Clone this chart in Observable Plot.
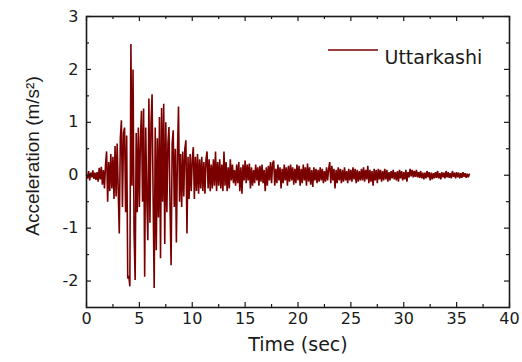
<!DOCTYPE html>
<html><head><meta charset="utf-8">
<script src="https://cdn.jsdelivr.net/npm/d3@7"></script>
<script src="https://cdn.jsdelivr.net/npm/@observablehq/plot@0.6"></script>
<style>body{margin:0;background:#fff}</style>
</head><body><div id="chart"></div>
<script>
// Sampling interval (s) and acceleration record (m/s²), one row per second
const dt = 0.1;
const acceleration = [
  0, -0.06, 0.08, -0.1, 0.05, -0.04, 0.09, -0.07, 0.05, -0.09,
  0.06, -0.12, 0.14, -0.08, 0.16, -0.18, 0.1, -0.25, 0.2, 0.45,
  -0.5, 0.25, -0.3, 0.4, -0.25, 0.35, -0.45, 0.55, -0.4, 0.6,
  -0.3, -1.1, 0.7, 1.04, -0.6, 0.8, 0.9, -0.7, 0.75, -1.95,
  -1.9, -2.1, 2.48, -0.2, 2.0, -1.1, -1.98, 0.8, -0.7, 0.9,
  -0.6, 0.7, 1.22, -0.5, 1.26, -1.92, 0.9, -0.4, -1.23, 1.45,
  -0.9, 1.0, 1.53, -0.4, -2.13, 0.9, -1.42, 0.7, -0.8, 1.1,
  -1.57, 1.27, -0.5, 1.35, -1.3, 1.0, -0.7, 0.6, 0.91, -0.6,
  -1.7, 0.6, 0.85, -0.6, 0.5, -1.27, 0.4, 1.3, -0.5, 0.4,
  -0.6, 0.45, -0.4, 0.5, 0.66, -1.1, 0.35, -0.45, 0.4, -0.3,
  0.3, 0.53, -0.45, 0.35, -0.3, 0.4, -0.35, 0.3, -0.25, 0.35,
  -0.3, 0.25, -0.35, 0.3, 0.45, -0.25, 0.3, -0.3, 0.2, -0.25,
  0.3, -0.2, 0.45, -0.3, 0.25, -0.2, 0.3, -0.25, 0.2, -0.3,
  0.45, -0.2, 0.25, -0.3, 0.15, -0.25, 0.3, -0.1, 0.2, -0.15,
  0.1, -0.2, 0.2, -0.15, 0.25, -0.3, 0.15, -0.35, 0.2, -0.1,
  0.28, -0.15, 0.2, -0.1, 0.22, -0.25, 0.15, -0.2, 0.1, -0.15,
  0.2, -0.1, 0.15, -0.2, 0.18, -0.12, 0.2, -0.15, 0.1, -0.3,
  0.15, -0.2, 0.18, -0.1, 0.25, -0.15, 0.22, 0.28, -0.2, 0.12,
  -0.15, 0.2, -0.1, 0.15, -0.25, 0.12, -0.15, 0.2, -0.1, 0.15,
  -0.2, 0.18, -0.12, 0.2, -0.1, 0.15, -0.18, 0.12, -0.15, 0.2,
  -0.1, 0.18, -0.2, 0.12, -0.15, 0.2, -0.1, 0.15, -0.2, 0.22,
  -0.12, 0.15, -0.18, 0.1, -0.22, 0.15, -0.1, 0.12, -0.15, 0.1,
  -0.12, 0.15, -0.1, 0.12, -0.15, 0.08, -0.12, 0.15, -0.1, 0.12,
  0.25, -0.15, 0.18, -0.1, 0.12, -0.25, 0.1, -0.15, 0.15, -0.1,
  0.12, -0.15, 0.1, -0.12, 0.15, -0.1, 0.08, -0.15, 0.12, -0.1,
  0.1, -0.12, 0.15, -0.08, 0.12, -0.15, 0.1, -0.12, 0.08, -0.1,
  0.12, -0.1, 0.15, -0.12, 0.1, -0.08, 0.18, -0.15, 0.1, -0.12,
  0.08, -0.2, 0.12, -0.1, 0.1, -0.15, 0.12, -0.08, 0.1, -0.12,
  0.08, -0.1, 0.12, -0.08, 0.1, -0.12, 0.06, -0.1, 0.08, -0.06,
  0.1, -0.08, 0.06, -0.1, 0.08, -0.12, 0.1, -0.06, 0.08, -0.1,
  0.06, -0.08, 0.1, -0.12, 0.06, -0.04, 0.12, -0.02, 0.1, -0.04,
  0.08, -0.03, 0.1, -0.04, 0.06, -0.05, 0.08, -0.06, 0.05, -0.08,
  0.05, -0.06, 0.08, -0.04, 0.06, -0.1, 0.05, -0.08, 0.04, -0.06,
  0.06, -0.05, 0.08, -0.06, 0.04, -0.08, 0.06, -0.04, 0.05, -0.06,
  0.08, -0.04, 0.06, -0.05, 0.04, -0.06, 0.08, -0.03, 0.05, -0.06,
  0.06, -0.04, 0.05, -0.06, 0.04, -0.05, 0.06, -0.03, 0.04, -0.05,
  0.03, -0.04, 0.02
];

const xTicks = [0, 5, 10, 15, 20, 25, 30, 35, 40];
const xMinorTicks = [2.5, 7.5, 12.5, 17.5, 22.5, 27.5, 32.5, 37.5];
const yTicks = [-2, -1, 0, 1, 2, 3];
const yMinorTicks = [-1.5, -0.5, 0.5, 1.5, 2.5];
const seriesName = "Uttarkashi";
const xLabel = "Time (sec)";
const yLabel = "Acceleration (m/s²)";

const data = acceleration.map((a, i) => ({t: +(i * dt).toFixed(2), a}));

const W = 522, H = 362, mL = 86, mR = 13, mT = 16, mB = 55;
const innerW = W - mL - mR, innerH = H - mT - mB;
const lineColor = "#7a0000";
const ink = "#1a1a1a";
const sans = "'DejaVu Sans', sans-serif";
const maj = 5, mnr = 3;

const chart = Plot.plot({
  width: W, height: H,
  marginLeft: mL, marginRight: mR, marginTop: mT, marginBottom: mB,
  style: {fontFamily: sans, background: "#fff", color: ink},
  x: {domain: [0, 40]},
  y: {domain: [-2.5, 3]},
  marks: [
    Plot.line(data, {x: "t", y: "a", stroke: lineColor, strokeWidth: 1.6, strokeLinejoin: "miter"}),
    // inward ticks, bottom/top
    Plot.ruleX(xTicks, {x: d => d, insetTop: innerH - maj, stroke: ink, strokeWidth: 1.2}),
    Plot.ruleX(xTicks, {x: d => d, insetBottom: innerH - maj, stroke: ink, strokeWidth: 1.2}),
    Plot.ruleX(xMinorTicks, {x: d => d, insetTop: innerH - mnr, stroke: ink, strokeWidth: 1.2}),
    Plot.ruleX(xMinorTicks, {x: d => d, insetBottom: innerH - mnr, stroke: ink, strokeWidth: 1.2}),
    // inward ticks, left/right
    Plot.ruleY(yTicks, {y: d => d, insetRight: innerW - maj, stroke: ink, strokeWidth: 1.2}),
    Plot.ruleY(yTicks, {y: d => d, insetLeft: innerW - maj, stroke: ink, strokeWidth: 1.2}),
    Plot.ruleY(yMinorTicks, {y: d => d, insetRight: innerW - mnr, stroke: ink, strokeWidth: 1.2}),
    Plot.ruleY(yMinorTicks, {y: d => d, insetLeft: innerW - mnr, stroke: ink, strokeWidth: 1.2}),
    Plot.axisX(xTicks, {tickSize: 0, tickPadding: 5, fontSize: 16, label: null, fill: ink}),
    Plot.axisY(yTicks, {tickSize: 0, tickPadding: 8, fontSize: 16, label: null, fill: ink, tickFormat: d => d < 0 ? "-" + Math.abs(d) : String(d)}),
    Plot.frame({stroke: ink, strokeWidth: 1.6}),
    Plot.text([xLabel], {frameAnchor: "bottom", text: d => d, dy: 43, fontSize: 19, fill: ink}),
    Plot.text([yLabel], {frameAnchor: "left", text: d => d, textAnchor: "middle", rotate: -90, dx: -54, dy: -6, fontSize: 19, fontFamily: "'Liberation Sans', Arial, sans-serif", fill: ink}),
    Plot.text([seriesName], {frameAnchor: "top-right", text: d => d, textAnchor: "start", dx: -(innerW - (384 - mL)), dy: 34, fontSize: 19, fill: ink})
  ]
});

// legend swatch line
const svg = d3.select(chart);
svg.append("line")
  .attr("x1", 328).attr("x2", 378).attr("y1", 50).attr("y2", 50)
  .attr("stroke", lineColor).attr("stroke-width", 1.5);

document.getElementById("chart").appendChild(chart);
</script>
</body></html>
